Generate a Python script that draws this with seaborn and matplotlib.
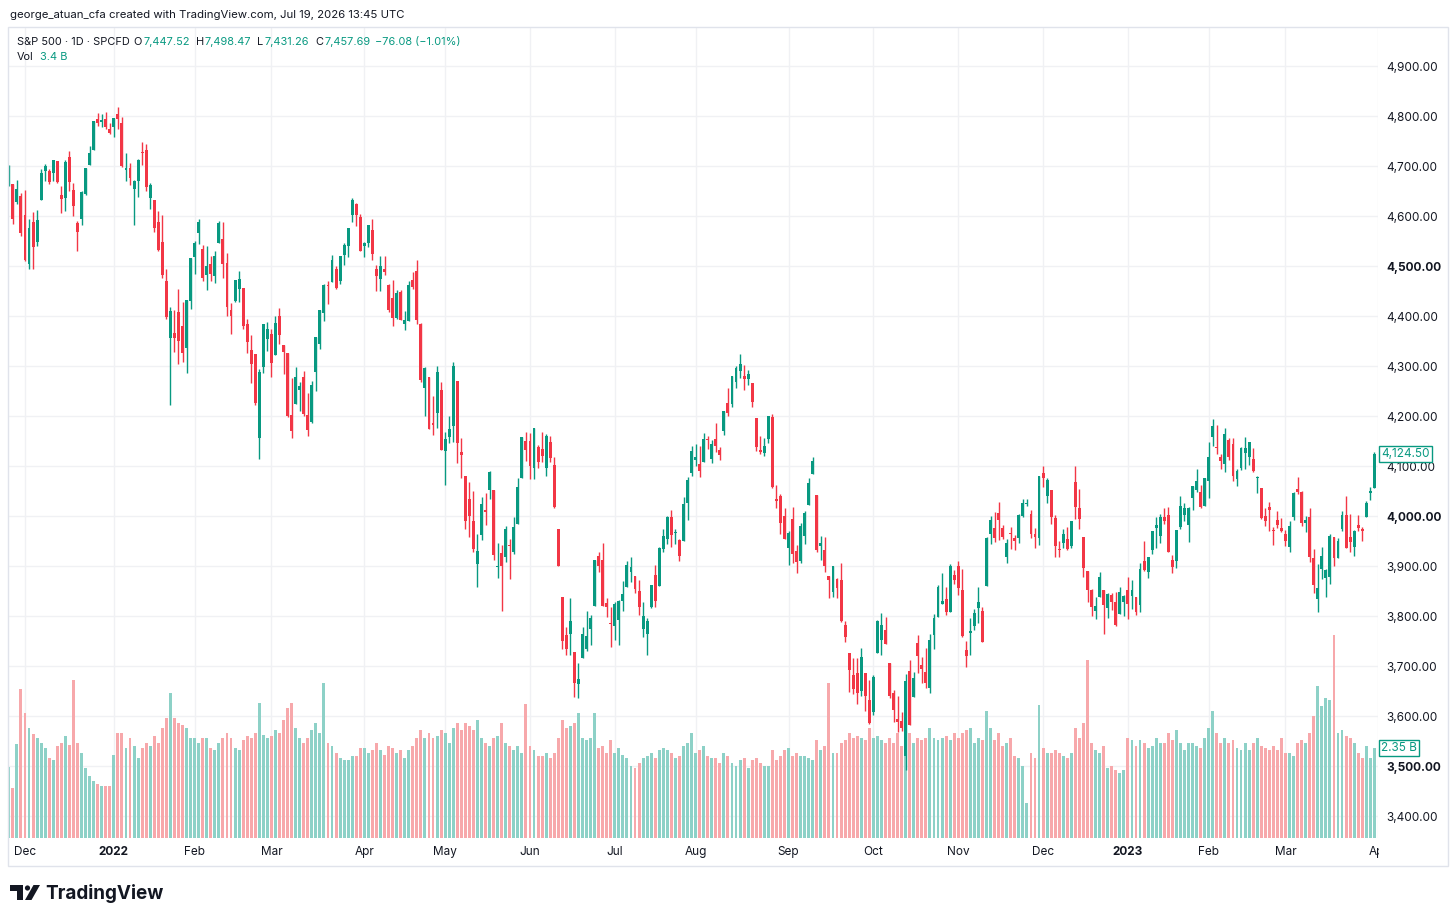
import numpy as np
import pandas as pd
import matplotlib
matplotlib.use("Agg")
import matplotlib.pyplot as plt
import matplotlib.patches as mpatches
import matplotlib.transforms as mtransforms
import seaborn as sns

# S&P 500 CFD, daily bars 24 Nov 2021 - 31 Mar 2023
opens = [
    4676, 4664, 4628, 4640,
    4602, 4504, 4589, 4548, 4632, 4690, 4691, 4687, 4710, 4642, 4637, 4719, 4652, 4587, 4595, 4645, 4703, 4733, 4795, 4788, 4795, 4775,
    4778, 4804, 4787, 4693, 4697, 4655, 4670, 4728, 4733, 4637, 4632, 4588, 4548, 4471, 4357, 4367, 4409, 4381, 4337, 4431,
    4519, 4566, 4535, 4482, 4505, 4480, 4547, 4554, 4507, 4413, 4430, 4455, 4457, 4385, 4332, 4324, 4156, 4299, 4354,
    4364, 4322, 4401, 4343, 4327, 4202, 4224, 4253, 4279, 4203, 4188, 4288, 4345, 4407, 4462, 4469, 4494, 4470, 4523, 4541, 4602, 4624, 4599,
    4540, 4547, 4573, 4495, 4475, 4494, 4462, 4437, 4397, 4449, 4385, 4390, 4473, 4490, 4385, 4256, 4279, 4186, 4207, 4253,
    4131, 4159, 4181, 4270, 4129, 4081, 4035, 3990, 3904, 3963, 4013, 4052, 4052, 3899, 3927, 3919, 3943, 3929, 3985, 4077, 4151,
    4150, 4096, 4138, 4134, 4097, 4148, 4102, 3975, 3838, 3763, 3765, 3728, 3665, 3716, 3734, 3775, 3821, 3920, 3913, 3826, 3786,
    3781, 3792, 3831, 3859, 3889, 3880, 3851, 3774, 3764, 3818, 3883, 3860, 3935, 3955, 3999, 3966, 3953, 3951, 4027, 4087,
    4112, 4105, 4108, 4154, 4115, 4155, 4133, 4170, 4227, 4225, 4269, 4290, 4281, 4274, 4267, 4196, 4133, 4127, 4154, 4199, 4034, 4041, 4000,
    3937, 3994, 3930, 3910, 3960, 4022, 4084, 4043, 3940, 3932, 3880, 3849, 3875, 3872, 3783, 3727, 3682, 3686, 3651, 3687, 3633,
    3609, 3726, 3753, 3772, 3706, 3647, 3595, 3591, 3520, 3691, 3638, 3746, 3703, 3689, 3657, 3762, 3799, 3825, 3835, 3808, 3882,
    3901, 3853, 3733, 3767, 3780, 3817, 3810, 3860, 3964, 3977, 4007, 3977, 3919, 3966, 3956, 3956, 4001, 4024, 4005, 3964, 3957,
    4087, 4040, 4053, 3997, 3934, 3947, 3954, 3940, 4069, 4016, 3958, 3890, 3853, 3810, 3839, 3853, 3816, 3843, 3829, 3805, 3829,
    3853, 3840, 3839, 3823, 3910, 3889, 3932, 3977, 3961, 3999, 4003, 3912, 3910, 3979, 4002, 3982, 4036, 4053, 4049, 4020,
    4070, 4158, 4137, 4119, 4105, 4153, 4144, 4075, 4096, 4127, 4119, 4114, 4077, 4056, 4001, 4018, 3973, 3993, 3977,
    3964, 3938, 3998, 4055, 4049, 3987, 3998, 3917, 3835, 3894, 3876, 3879, 3958, 3917, 3975, 4003, 3959, 3939, 3982, 3975, 3999, 4046, 4056,
]
highs = [
    4703, 4665, 4672, 4646,
    4652, 4595, 4608, 4612, 4695, 4705, 4695, 4713, 4710, 4660, 4712, 4731, 4666, 4591, 4651, 4697, 4740, 4791, 4807, 4804, 4808, 4787,
    4797, 4819, 4798, 4726, 4707, 4673, 4714, 4749, 4744, 4666, 4632, 4611, 4602, 4494, 4418, 4412, 4454, 4429, 4432, 4516,
    4550, 4595, 4542, 4540, 4521, 4531, 4590, 4589, 4526, 4426, 4472, 4490, 4457, 4395, 4362, 4325, 4294, 4385, 4388,
    4375, 4401, 4416, 4343, 4327, 4276, 4299, 4268, 4291, 4247, 4271, 4358, 4413, 4465, 4471, 4522, 4501, 4520, 4546, 4576, 4637, 4627, 4604,
    4549, 4583, 4594, 4503, 4521, 4521, 4464, 4472, 4453, 4453, 4411, 4471, 4489, 4513, 4386, 4299, 4279, 4240, 4300, 4269,
    4169, 4200, 4308, 4270, 4157, 4081, 4068, 4050, 3965, 4039, 4047, 4090, 4052, 3946, 3943, 3981, 3955, 3999, 4076, 4158, 4169,
    4166, 4177, 4142, 4169, 4164, 4160, 4119, 3975, 3838, 3779, 3837, 3728, 3707, 3779, 3810, 3802, 3913, 3928, 3946, 3837, 3818,
    3829, 3832, 3870, 3910, 3918, 3880, 3873, 3829, 3796, 3863, 3902, 3939, 3975, 4001, 4013, 3975, 3954, 4039, 4079, 4141,
    4145, 4141, 4167, 4161, 4152, 4187, 4138, 4211, 4257, 4280, 4301, 4325, 4302, 4292, 4267, 4196, 4160, 4156, 4200, 4204, 4062, 4044, 4016,
    3970, 4018, 3942, 3987, 4010, 4076, 4119, 4043, 3961, 3959, 3880, 3900, 3877, 3907, 3790, 3727, 3716, 3717, 3736, 3687, 3672,
    3683, 3793, 3807, 3798, 3707, 3653, 3640, 3608, 3685, 3713, 3689, 3762, 3719, 3736, 3765, 3804, 3862, 3887, 3859, 3905, 3893,
    3911, 3894, 3750, 3796, 3814, 3859, 3818, 3959, 4001, 4009, 4028, 3983, 3954, 3979, 3962, 4004, 4034, 4034, 4012, 3976, 4080,
    4101, 4077, 4053, 4002, 3950, 3974, 3978, 3991, 4101, 4054, 3958, 3891, 3855, 3839, 3889, 3853, 3846, 3846, 3849, 3858, 3842,
    3878, 3873, 3839, 3906, 3951, 3919, 3970, 3998, 4004, 4016, 4018, 3922, 3973, 4040, 4026, 4019, 4061, 4095, 4063, 4077,
    4148, 4195, 4182, 4124, 4176, 4156, 4156, 4095, 4138, 4159, 4148, 4137, 4081, 4056, 4017, 4029, 3979, 4010, 3997,
    3972, 3991, 4049, 4078, 4051, 4000, 4017, 3934, 3905, 3938, 3894, 3965, 3958, 3956, 4010, 4040, 4004, 3972, 4003, 3979, 4031, 4059, 4128,
]
lows = [
    4660, 4585, 4625, 4560,
    4510, 4495, 4495, 4540, 4632, 4670, 4665, 4670, 4667, 4607, 4611, 4651, 4600, 4531, 4583, 4643, 4703, 4733, 4780, 4778, 4775, 4765,
    4758, 4774, 4699, 4671, 4663, 4582, 4638, 4702, 4651, 4614, 4568, 4531, 4477, 4395, 4222, 4329, 4305, 4309, 4287, 4415,
    4484, 4545, 4471, 4452, 4471, 4466, 4547, 4477, 4401, 4364, 4429, 4429, 4374, 4327, 4267, 4222, 4115, 4287, 4330,
    4279, 4322, 4345, 4284, 4199, 4157, 4224, 4210, 4200, 4161, 4187, 4251, 4335, 4390, 4425, 4469, 4455, 4465, 4502, 4518, 4589, 4581, 4530,
    4518, 4539, 4513, 4450, 4451, 4482, 4408, 4381, 4395, 4392, 4372, 4390, 4455, 4385, 4268, 4200, 4175, 4163, 4176, 4132,
    4062, 4147, 4148, 4107, 4077, 3975, 3959, 3929, 3859, 3953, 3983, 4034, 3913, 3877, 3810, 3909, 3875, 3925, 3985, 4077, 4110,
    4074, 4075, 4097, 4109, 4080, 4108, 4017, 3900, 3734, 3722, 3723, 3639, 3636, 3716, 3730, 3743, 3821, 3889, 3820, 3799, 3738,
    3752, 3742, 3810, 3859, 3869, 3847, 3802, 3759, 3722, 3817, 3818, 3860, 3929, 3944, 3939, 3944, 3911, 3951, 3992, 4080,
    4101, 4079, 4108, 4135, 4107, 4128, 4112, 4162, 4201, 4219, 4256, 4277, 4253, 4262, 4218, 4131, 4125, 4120, 4147, 4057, 4017, 3965, 3954,
    3903, 3906, 3886, 3907, 3944, 4022, 4084, 3928, 3912, 3888, 3837, 3838, 3837, 3789, 3749, 3648, 3644, 3624, 3641, 3610, 3585,
    3602, 3726, 3722, 3744, 3636, 3588, 3568, 3570, 3492, 3582, 3638, 3686, 3667, 3657, 3647, 3735, 3799, 3825, 3803, 3808, 3864,
    3843, 3759, 3698, 3722, 3772, 3786, 3749, 3860, 3944, 3949, 3953, 3954, 3906, 3935, 3933, 3947, 3999, 4020, 3956, 3937, 3943,
    4059, 4027, 3984, 3918, 3918, 3936, 3933, 3937, 3994, 3974, 3879, 3828, 3800, 3795, 3839, 3764, 3797, 3813, 3781, 3805, 3800,
    3795, 3815, 3802, 3809, 3890, 3877, 3925, 3937, 3947, 3984, 3928, 3886, 3897, 3974, 3990, 3949, 4013, 4048, 4016, 4020,
    4037, 4141, 4124, 4094, 4088, 4112, 4070, 4060, 4092, 4095, 4103, 4088, 4047, 3995, 3981, 3971, 3943, 3977, 3968,
    3940, 3928, 3993, 4044, 3980, 3969, 3909, 3846, 3809, 3874, 3838, 3864, 3901, 3916, 3970, 3936, 3929, 3920, 3971, 3951, 3999, 4032, 4056,
]
closes = [
    4701, 4595, 4655, 4567,
    4513, 4577, 4538, 4592, 4686, 4701, 4668, 4712, 4668, 4634, 4709, 4668, 4621, 4568, 4649, 4697, 4726, 4791, 4786, 4793, 4778, 4766,
    4797, 4794, 4701, 4696, 4677, 4670, 4713, 4726, 4659, 4663, 4577, 4533, 4483, 4398, 4410, 4357, 4350, 4327, 4432, 4516,
    4546, 4589, 4477, 4501, 4484, 4521, 4587, 4504, 4419, 4401, 4472, 4475, 4380, 4349, 4305, 4226, 4288, 4385, 4374,
    4306, 4387, 4363, 4329, 4201, 4171, 4278, 4260, 4204, 4173, 4262, 4358, 4412, 4463, 4461, 4512, 4457, 4520, 4543, 4576, 4632, 4603, 4530,
    4546, 4583, 4525, 4481, 4500, 4488, 4413, 4397, 4447, 4393, 4392, 4462, 4459, 4393, 4272, 4297, 4175, 4183, 4288, 4132,
    4155, 4175, 4300, 4147, 4123, 3991, 4001, 3935, 3930, 4024, 4008, 4089, 3923, 3901, 3901, 3974, 3941, 3979, 4058, 4158, 4132,
    4101, 4177, 4109, 4121, 4161, 4116, 4018, 3901, 3750, 3735, 3790, 3667, 3675, 3765, 3760, 3796, 3912, 3900, 3821, 3819, 3785,
    3825, 3831, 3845, 3903, 3899, 3854, 3819, 3801, 3790, 3863, 3831, 3937, 3960, 3999, 3962, 3967, 3921, 4024, 4073, 4130,
    4119, 4091, 4155, 4152, 4145, 4140, 4122, 4210, 4207, 4280, 4297, 4305, 4275, 4284, 4228, 4138, 4128, 4141, 4200, 4058, 4031, 3986, 3955,
    3967, 3924, 3908, 3980, 4006, 4067, 4110, 3932, 3946, 3901, 3873, 3900, 3856, 3790, 3758, 3693, 3655, 3647, 3719, 3640, 3586,
    3678, 3791, 3783, 3745, 3640, 3612, 3589, 3577, 3670, 3583, 3677, 3720, 3695, 3666, 3753, 3797, 3859, 3831, 3808, 3901, 3872,
    3857, 3760, 3720, 3771, 3807, 3829, 3749, 3957, 3993, 3957, 3992, 3959, 3947, 3965, 3950, 4003, 4027, 4026, 3964, 3958, 4080,
    4077, 4072, 3999, 3941, 3933, 3964, 3934, 3991, 4019, 3995, 3896, 3852, 3818, 3821, 3878, 3822, 3845, 3829, 3783, 3849, 3840,
    3824, 3853, 3808, 3895, 3893, 3919, 3970, 3983, 3999, 3990, 3928, 3899, 3972, 4020, 4017, 4016, 4060, 4071, 4018, 4077,
    4119, 4180, 4136, 4111, 4164, 4118, 4081, 4090, 4137, 4136, 4148, 4090, 4079, 3997, 3991, 4012, 3970, 3982, 3970,
    3951, 3981, 4046, 4048, 3986, 3992, 3919, 3862, 3856, 3920, 3892, 3960, 3917, 3951, 4002, 3937, 3949, 3970, 3977, 3971, 4027, 4051, 4124.5,
]
# volume in billions
volumes = [
    1.85, 1.31, 2.45, 3.89,
    3.26, 2.87, 2.71, 2.61, 2.48, 2.35, 2.09, 2.04, 2.40, 2.48, 2.66, 2.43, 4.12, 2.48, 2.22, 1.83, 1.62, 1.49, 1.41, 1.36, 1.36, 1.36,
    2.17, 2.74, 2.74, 2.35, 2.61, 2.40, 2.09, 2.35, 2.48, 2.40, 2.66, 2.48, 2.87, 3.13, 3.78, 3.13, 3.00, 2.95, 2.87, 2.61,
    2.61, 2.48, 2.61, 2.61, 2.35, 2.30, 2.48, 2.61, 2.74, 2.61, 2.35, 2.30, 2.56, 2.66, 2.61, 2.74, 3.52, 2.69, 2.61,
    2.66, 2.82, 2.74, 3.08, 3.39, 3.52, 2.87, 2.61, 2.48, 2.61, 2.82, 3.00, 2.74, 4.05, 2.48, 2.40, 2.22, 2.09, 2.04, 2.04, 2.14, 2.14, 2.35,
    2.35, 2.22, 2.30, 2.48, 2.30, 2.17, 2.40, 2.35, 2.22, 2.30, 2.09, 2.30, 2.40, 2.61, 2.82, 2.61, 2.74, 2.61, 2.66, 2.82,
    2.74, 2.48, 2.87, 3.00, 2.82, 3.00, 2.92, 2.82, 3.08, 2.61, 2.48, 2.40, 2.61, 2.66, 3.00, 2.48, 2.40, 2.30, 2.40, 2.22, 3.50,
    2.40, 2.30, 2.14, 2.14, 2.22, 2.09, 2.22, 2.61, 3.08, 2.87, 2.92, 3.00, 3.26, 2.61, 2.56, 2.61, 3.26, 2.35, 2.40, 2.22, 2.56,
    2.22, 2.35, 2.17, 2.09, 1.88, 1.83, 1.96, 2.09, 2.14, 2.22, 2.09, 2.30, 2.35, 2.30, 2.22, 2.09, 2.14, 2.40, 2.48, 2.74,
    2.22, 2.30, 2.40, 2.14, 2.09, 2.09, 1.96, 2.22, 2.14, 1.96, 1.88, 2.04, 2.09, 1.83, 2.04, 2.09, 1.96, 1.88, 1.88, 2.30, 2.04, 2.14, 2.30,
    2.35, 2.14, 2.22, 2.14, 2.14, 2.09, 2.04, 2.56, 2.30, 2.40, 4.05, 2.22, 2.22, 2.48, 2.56, 2.74, 2.61, 2.66, 2.61, 2.56, 2.87,
    2.61, 2.66, 2.56, 2.48, 2.61, 2.48, 2.74, 2.40, 3.00, 2.74, 2.48, 2.61, 2.56, 2.61, 2.87, 2.61, 2.56, 2.61, 2.66, 2.56, 2.74,
    2.61, 2.74, 2.82, 2.87, 2.48, 2.61, 2.56, 3.31, 2.87, 2.56, 2.74, 2.40, 2.48, 2.61, 2.14, 2.09, 1.88, 0.91, 2.22, 2.09, 3.47,
    2.35, 2.22, 2.22, 2.30, 2.22, 2.14, 2.09, 2.22, 2.87, 2.61, 3.00, 4.65, 2.48, 2.30, 2.22, 2.40, 1.83, 1.88, 1.77, 1.70, 1.77,
    2.61, 2.56, 2.40, 2.56, 2.48, 2.35, 2.40, 2.61, 2.48, 2.48, 2.74, 2.56, 2.82, 2.48, 2.30, 2.48, 2.48, 2.40, 2.35, 2.61,
    2.87, 3.31, 2.74, 2.48, 2.61, 2.48, 2.56, 2.35, 2.30, 2.48, 2.30, 2.48, 2.61, 2.40, 2.35, 2.30, 2.40, 2.30, 2.61,
    2.22, 2.22, 2.14, 2.48, 2.56, 2.48, 2.74, 3.18, 3.97, 3.45, 3.65, 3.60, 5.30, 2.74, 2.82, 2.66, 2.61, 2.48, 2.22, 2.09, 2.40, 2.09, 2.35,
]

month_labels = ["Dec", "2022", "Feb", "Mar", "Apr", "May", "Jun", "Jul", "Aug",
                "Sep", "Oct", "Nov", "Dec", "2023", "Feb", "Mar", "Apr"]
month_start = [4, 26, 46, 65, 88, 108, 129, 150, 170, 193, 214, 235, 256, 277, 297, 316, 339]
price_ticks = list(range(3400, 5000, 100))
bold_ticks = [3500, 4000, 4500]

UP = "#089981"
DOWN = "#f23645"
VOL_UP = "#8dd1c7"
VOL_DOWN = "#f7a8ab"
TEXT = "#131722"
GRID = "#f0f1f4"

df = pd.DataFrame({"open": opens, "high": highs, "low": lows,
                   "close": closes, "volume": volumes})
df["bar"] = np.arange(len(df))
df["dir"] = np.where(df["close"] >= df["open"], "up", "down")
df["high"] = df[["high", "open", "close"]].max(axis=1)
df["low"] = df[["low", "open", "close"]].min(axis=1)
colors = np.where(df["dir"] == "up", UP, DOWN)

sns.set_style("white")
plt.rcParams["font.family"] = ["Inter", "DejaVu Sans"]

W, H = 1456, 922
fig = plt.figure(figsize=(W / 100, H / 100), dpi=100)
px = mtransforms.Affine2D().scale(1 / W, -1 / H).translate(0, 1) + fig.transFigure


def fx(x):
    return x / W


def fy(y):
    return 1 - y / H


rect = [fx(8), fy(838), fx(1378) - fx(8), fy(28) - fy(838)]
ylo, yhi = 3356, 4976
xlo, xhi = -0.2, 338.9

# grid layer
ax_grid = fig.add_axes(rect, zorder=0)
ax_grid.set_xlim(xlo, xhi)
ax_grid.set_ylim(ylo, yhi)
for p in price_ticks:
    ax_grid.axhline(p, color=GRID, lw=1)
for m in month_start:
    ax_grid.axvline(m, color=GRID, lw=1)
ax_grid.axis("off")

# volume layer
ax_vol = fig.add_axes(rect, zorder=1)
ax_vol.patch.set_visible(False)
sns.barplot(data=df, x="bar", y="volume", hue="dir",
            palette={"up": VOL_UP, "down": VOL_DOWN}, native_scale=True,
            dodge=False, width=0.72, saturation=1, errorbar=None,
            legend=False, ax=ax_vol, linewidth=0)
ax_vol.set_xlim(xlo, xhi)
ax_vol.set_ylim(0, 21.15)
ax_vol.axis("off")

# candles
ax = fig.add_axes(rect, zorder=2)
ax.patch.set_visible(False)
ax.vlines(df["bar"], df["low"], df["high"], colors=colors, lw=1)
body_lo = df[["open", "close"]].min(axis=1)
body_h = (df["close"] - df["open"]).abs().clip(lower=1.6)
ax.bar(df["bar"], body_h, bottom=body_lo, width=0.72, color=colors, linewidth=0)
ax.set_xlim(xlo, xhi)
ax.set_ylim(ylo, yhi)
for s in ax.spines.values():
    s.set_visible(False)
ax.set_xticks([])
ax.set_yticks(price_ticks)
ax.set_yticklabels([f"{p:,.2f}" for p in price_ticks])
ax.yaxis.tick_right()
ax.tick_params(axis="y", length=0, pad=6.0, labelsize=8.5, labelcolor=TEXT)
for lab, p in zip(ax.get_yticklabels(), price_ticks):
    if p in bold_ticks:
        lab.set_fontweight("bold")

# month labels under the pane
xtr = mtransforms.blended_transform_factory(ax.transData, ax.transAxes)
for lab, m in zip(month_labels, month_start):
    ax.text(m, -0.0173, lab, transform=xtr, ha="center", va="center",
            fontsize=8.5, color=TEXT, clip_on=False,
            fontweight="bold" if lab.isdigit() else "normal")

# last value labels on the price scale
ytr = mtransforms.blended_transform_factory(ax.transAxes, ax.transData)
ax.text(1.0025, closes[-1], f"{closes[-1]:,.2f}", transform=ytr, ha="left",
        va="center", fontsize=8.5, color=UP, clip_on=False, zorder=5,
        bbox=dict(boxstyle="square,pad=0.18", fc="white", ec=UP, lw=1))
vtr = mtransforms.blended_transform_factory(ax_vol.transAxes, ax_vol.transData)
ax_vol.text(1.0025, volumes[-1], f"{volumes[-1]:.2f} B", transform=vtr, ha="left",
            va="center", fontsize=8.5, color=UP, clip_on=False, zorder=5,
            bbox=dict(boxstyle="square,pad=0.18", fc="white", ec=UP, lw=1))

# cover under the price scale (clips the last month label)
fig.patches.append(mpatches.Rectangle((1378.5, 839), 69, 26, transform=px,
                                      fc="white", ec="none", zorder=10))
# chart frame
fig.patches.append(mpatches.Rectangle((8, 27), 1440, 839, transform=px,
                                      fill=False, ec="#e0e3eb", lw=1, zorder=11))

# header texts
fig.text(fx(10), fy(15), "george_atuan_cfa created with TradingView.com, Jul 19, 2026 13:45 UTC",
         fontsize=8.2, color=TEXT, va="center")

renderer = fig.canvas.get_renderer()


def text_row(parts, x0, y, size):
    # lay out differently coloured pieces one after another
    x = x0
    for s, c, gap in parts:
        t = fig.text(fx(x), fy(y), s, fontsize=size, color=c, va="center")
        x = t.get_window_extent(renderer).x1 + gap


text_row([("S&P 500 · 1D · SPCFD", TEXT, 4), ("O", TEXT, 1), ("7,447.52", UP, 6),
          ("H", TEXT, 1), ("7,498.47", UP, 6), ("L", TEXT, 1), ("7,431.26", UP, 6),
          ("C", TEXT, 1), ("7,457.69", UP, 5), ("\u221276.08 (\u22121.01%)", UP, 0)],
         17, 42, 7.9)
text_row([("Vol", TEXT, 6), ("3.4 B", UP, 0)], 17, 57, 7.9)

# TradingView logo
fig.patches.append(mpatches.Polygon([(10, 885), (23, 885), (23, 900), (17, 900), (17, 891), (10, 891)],
                                    closed=True, transform=px, fc=TEXT, ec="none"))
fig.patches.append(mpatches.Circle((27.5, 888), 2.6, transform=px, fc=TEXT, ec="none"))
fig.patches.append(mpatches.Polygon([(25, 900), (31.5, 900), (40, 885), (33.5, 885)],
                                    closed=True, transform=px, fc=TEXT, ec="none"))
fig.text(fx(45), fy(893), "TradingView", fontsize=13.6, fontweight="bold",
         color=TEXT, va="center")

fig.savefig("out.png", dpi=100, facecolor="white")
